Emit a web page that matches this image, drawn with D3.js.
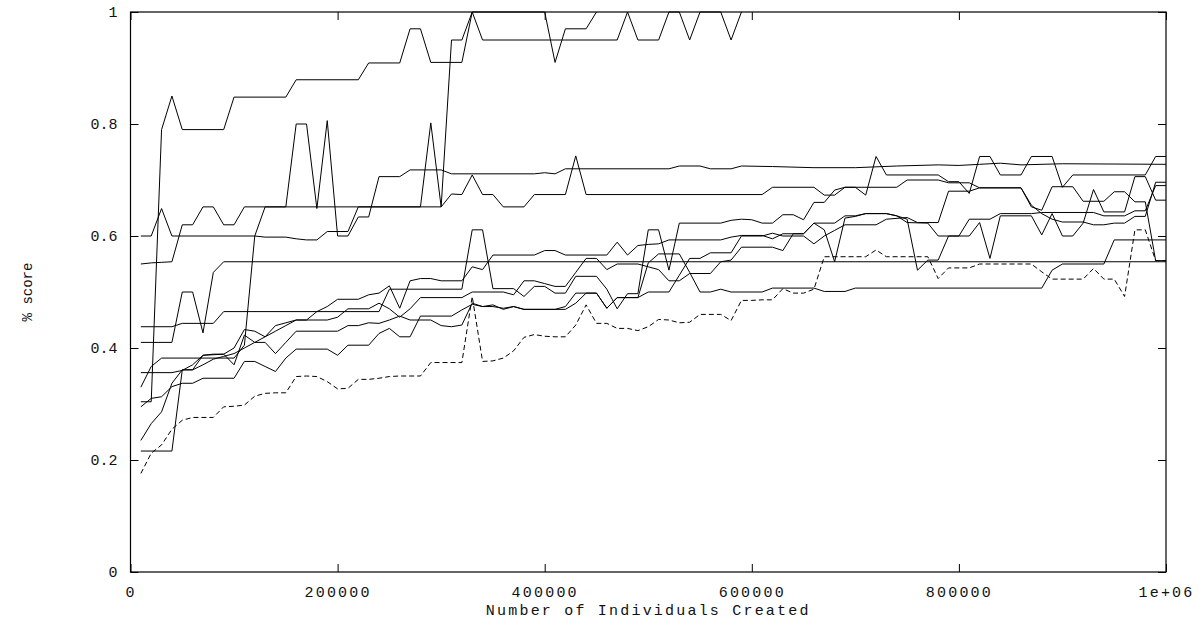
<!DOCTYPE html>
<html>
<head>
<meta charset="utf-8">
<script src="https://cdn.jsdelivr.net/npm/d3@7/dist/d3.min.js"></script>
<style>
	body { margin: 0; background: #fff; }
	svg { display: block; font-family: "Liberation Mono", "DejaVu Sans Mono", monospace; }
</style>
</head>
<body>
<div class="container"></div>
<script>
"use strict";

//each run: [checkpoint, score], one checkpoint every 10000 individuals
const run1 = [[1,.304],[2,.304],[3,.79],[4,.85],[5,.79],[9,.79],[10,.848],[15,.848],[16,.879],[22,.879],[23,.909],[26,.909],[27,.97],[28,.97],[29,.91],[32,.91],[33,1],[34,.95],[47,.95],[48,1],[49,.95],[51,.95],[52,1],[53,1],[54,.95],[55,1],[57,1],[58,.95],[59,1]]
const run2 = [[1,.55],[2,.552],[3,.553],[4,.554],[5,.62],[6,.62],[7,.652],[8,.652],[9,.62],[10,.62],[11,.652],[28,.652],[29,.802],[30,.652],[31,.95],[32,.95],[33,1],[40,1],[41,.91],[42,.97],[44,.97],[45,1]]
const run3 = [[1,.6],[2,.6],[3,.649],[4,.6],[12,.6],[13,.598],[15,.598],[16,.595],[17,.593],[18,.593],[19,.608],[21,.608],[22,.652],[30,.652],[31,.675],[32,.674],[33,.709],[34,.674],[35,.674],[36,.652],[38,.652],[39,.674],[42,.674],[43,.743],[44,.674],[61,.674],[62,.687],[66,.687],[67,.673],[68,.673],[69,.687],[70,.687],[71,.673],[72,.742],[73,.709],[78,.709],[79,.697],[80,.697],[81,.676],[82,.742],[83,.742],[84,.709],[86,.709],[87,.742],[89,.742],[90,.687],[91,.709],[98,.709],[99,.742],[100,.742]]
const run4 = [[1,.33],[2,.367],[3,.382],[10,.382],[11,.405],[12,.6],[13,.652],[15,.652],[16,.8],[17,.8],[18,.649],[19,.806],[20,.6],[21,.6],[22,.634],[23,.634],[24,.706],[26,.706],[27,.718],[30,.718],[31,.711],[39,.711],[40,.713],[41,.711],[42,.72],[52,.72],[53,.725],[55,.725],[56,.72],[58,.72],[59,.725],[62,.724],[66,.722],[70,.722],[74,.725],[78,.727],[80,.726],[82,.728],[84,.73],[86,.727],[90,.729],[100,.728]]
const run5 = [[1,.41],[4,.41],[5,.5],[6,.5],[7,.427],[8,.535],[9,.554],[100,.554]]
const run6 = [[1,.438],[4,.438],[5,.444],[8,.444],[9,.465],[24,.465],[25,.505],[32,.505],[33,.611],[34,.611],[35,.506],[37,.506],[38,.492],[39,.51],[40,.51],[41,.498],[42,.498],[43,.528],[45,.528],[46,.505],[47,.47],[48,.497],[49,.497],[50,.611],[51,.611],[52,.539],[53,.623],[57,.623],[58,.628],[59,.63],[60,.629],[61,.623],[62,.623],[63,.638],[64,.638],[65,.629],[66,.66],[67,.66],[68,.682],[69,.687],[74,.687],[75,.7],[78,.7],[79,.695],[81,.695],[82,.686],[86,.686],[87,.652],[88,.646],[89,.688],[91,.688],[92,.662],[94,.662],[95,.679],[96,.679],[97,.661],[98,.661],[99,.556],[100,.556]]
const run7 = [[1,.356],[4,.356],[5,.36],[6,.37],[7,.387],[9,.389],[10,.4],[11,.433],[12,.43],[13,.42],[14,.44],[15,.445],[16,.45],[17,.45],[18,.465],[19,.474],[20,.487],[22,.487],[23,.495],[24,.498],[25,.511],[26,.471],[27,.52],[28,.524],[29,.524],[30,.52],[32,.52],[33,.545],[34,.54],[35,.566],[39,.566],[40,.574],[41,.574],[42,.566],[46,.566],[47,.589],[48,.566],[49,.583],[50,.585],[51,.586],[52,.593],[57,.593],[58,.598],[59,.601],[61,.601],[62,.595],[63,.604],[65,.604],[66,.623],[68,.623],[69,.636],[70,.636],[71,.64],[73,.64],[74,.636],[75,.624],[77,.623],[78,.6],[80,.6],[81,.63],[83,.63],[84,.64],[87,.64],[88,.642],[93,.642],[94,.636],[96,.636],[97,.645],[98,.645],[99,.69],[100,.69]]
const run8 = [[1,.295],[2,.31],[3,.313],[4,.331],[5,.337],[6,.337],[7,.346],[10,.346],[11,.376],[12,.376],[13,.367],[14,.358],[15,.382],[16,.398],[19,.398],[20,.387],[21,.405],[23,.405],[24,.426],[25,.435],[26,.42],[27,.42],[28,.457],[31,.457],[32,.468],[33,.478],[34,.474],[35,.474],[36,.471],[37,.474],[38,.469],[42,.469],[43,.48],[44,.498],[45,.498],[46,.471],[47,.49],[49,.49],[50,.5],[52,.5],[53,.53],[54,.56],[55,.56],[56,.57],[58,.57],[59,.6],[61,.6],[62,.605],[63,.6],[65,.6],[66,.586],[67,.6],[68,.61],[69,.62],[72,.62],[73,.63],[75,.633],[76,.624],[78,.624],[79,.68],[81,.68],[82,.686],[86,.686],[87,.655],[88,.64],[89,.63],[90,.625],[92,.625],[93,.62],[94,.62],[95,.623],[96,.623],[97,.635],[98,.635],[99,.696],[100,.696]]
const run9 = [[1,.216],[4,.216],[5,.361],[6,.361],[7,.387],[8,.389],[9,.389],[10,.37],[11,.423],[12,.41],[13,.41],[14,.39],[15,.41],[16,.43],[20,.43],[21,.44],[22,.44],[23,.445],[24,.444],[25,.45],[26,.457],[27,.45],[29,.45],[30,.44],[31,.438],[32,.441],[33,.48],[34,.474],[35,.477],[36,.469],[37,.474],[38,.469],[41,.469],[42,.474],[43,.498],[45,.498],[46,.471],[47,.49],[49,.49],[50,.552],[51,.568],[53,.568],[54,.535],[55,.5],[56,.5],[57,.505],[58,.5],[61,.5],[62,.507],[66,.507],[67,.501],[69,.501],[70,.507],[88,.507],[89,.539],[90,.55],[94,.55],[95,.593],[100,.593]]
const run10 = [[1,.235],[2,.265],[3,.286],[4,.337],[5,.361],[6,.361],[7,.37],[8,.38],[9,.385],[10,.39],[11,.4],[12,.41],[13,.42],[14,.43],[15,.44],[16,.45],[19,.45],[20,.455],[21,.47],[23,.47],[24,.48],[25,.47],[26,.455],[27,.47],[28,.49],[32,.49],[33,.5],[36,.5],[37,.495],[38,.52],[39,.52],[40,.515],[41,.51],[42,.51],[43,.535],[44,.56],[45,.56],[46,.54],[47,.55],[49,.55],[50,.545],[51,.54],[52,.52],[53,.52],[54,.533],[56,.533],[57,.554],[58,.557],[59,.58],[62,.58],[63,.574],[64,.604],[65,.604],[66,.623],[67,.611],[68,.554],[69,.632],[70,.635],[71,.64],[73,.64],[74,.636],[75,.63],[76,.539],[77,.557],[78,.557],[79,.6],[81,.6],[82,.624],[83,.56],[84,.636],[87,.636],[88,.602],[89,.64],[90,.6],[91,.6],[92,.623],[93,.683],[94,.643],[96,.643],[97,.706],[98,.706],[99,.664],[100,.664]]
//dashed run
const meanRun = [[1,.176],[2,.212],[3,.227],[4,.255],[5,.271],[6,.276],[8,.276],[9,.295],[10,.296],[11,.298],[12,.314],[13,.319],[14,.32],[15,.32],[16,.349],[17,.35],[18,.349],[19,.34],[20,.327],[21,.328],[22,.344],[23,.344],[24,.346],[25,.349],[26,.35],[28,.35],[29,.374],[32,.374],[33,.492],[34,.376],[35,.377],[36,.382],[37,.395],[38,.419],[39,.424],[40,.421],[41,.42],[42,.42],[43,.441],[44,.477],[45,.444],[46,.444],[47,.435],[48,.435],[49,.431],[50,.438],[51,.451],[52,.45],[53,.445],[54,.446],[55,.46],[57,.46],[58,.449],[59,.485],[60,.485],[61,.486],[62,.486],[63,.506],[64,.498],[65,.498],[66,.505],[67,.563],[71,.563],[72,.575],[73,.563],[77,.563],[78,.524],[79,.543],[81,.543],[82,.55],[87,.55],[88,.536],[89,.523],[92,.523],[93,.542],[94,.523],[95,.523],[96,.492],[97,.611],[98,.611],[99,.556],[100,.556]]

const runs = [run1, run2, run3, run4, run5, run6, run7, run8, run9, run10]
const step = 10000 //individuals between two checkpoints

const xTicks = [0, 200000, 400000, 600000, 800000, 1000000]
const xTickLabels = ['0', '200000', '400000', '600000', '800000', '1e+06']
const yTicks = [0, 0.2, 0.4, 0.6, 0.8, 1]
const yTickLabels = ['0', '0.2', '0.4', '0.6', '0.8', '1']

//the p(properties) of the svg
const p = {
	svgWidth: 1203,
	svgHeight: 625,
	left: 130.5,
	right: 1166,
	top: 12,
	bottom: 572,
	tick: 8,
	fontSize: 15,
	spacing: '2.2px'
}

const svg = d3.select('.container')
	.append('svg')
	.attr('width', p.svgWidth)
	.attr('height', p.svgHeight)

const x = d3.scaleLinear().domain([0, 1000000]).range([p.left, p.right])
const y = d3.scaleLinear().domain([0, 1]).range([p.bottom, p.top])

const line = d3.line()
	.x(d => x(d[0] * step))
	.y(d => y(d[1]))

//ticks on all four sides, pointing inwards
function drawAxis(axis, transform, spacing) {
	const g = svg.append('g')
		.attr('transform', transform)
		.call(axis)
	g.select('.domain').remove()
	g.selectAll('.tick line').attr('stroke', '#000')
	g.selectAll('.tick text')
		.attr('fill', '#111')
		.style('font-size', p.fontSize + 'px')
		.style('letter-spacing', spacing)
		.style('font-family', '"Liberation Mono", monospace')
	return g
}

drawAxis(d3.axisBottom(x).tickValues(xTicks).tickSize(-p.tick).tickPadding(14)
	.tickFormat((d, i) => xTickLabels[i]), `translate(0,${p.bottom})`, p.spacing)
drawAxis(d3.axisTop(x).tickValues(xTicks).tickSize(-p.tick).tickFormat(''), `translate(0,${p.top})`, '0')
drawAxis(d3.axisLeft(y).tickValues(yTicks).tickSize(-p.tick).tickPadding(13)
	.tickFormat((d, i) => yTickLabels[i]), `translate(${p.left},0)`, '0')
drawAxis(d3.axisRight(y).tickValues(yTicks).tickSize(-p.tick).tickFormat(''), `translate(${p.right},0)`, '0')

//frame
svg.append('rect')
	.attr('x', p.left)
	.attr('y', p.top)
	.attr('width', p.right - p.left)
	.attr('height', p.bottom - p.top)
	.attr('fill', 'none')
	.attr('stroke', '#000')
	.attr('stroke-width', 1.2)

//runs
svg.append('g')
	.selectAll('path')
	.data(runs)
	.join('path')
	.attr('d', line)
	.attr('fill', 'none')
	.attr('stroke', '#000')
	.attr('stroke-width', 1)

svg.append('path')
	.datum(meanRun)
	.attr('d', line)
	.attr('fill', 'none')
	.attr('stroke', '#000')
	.attr('stroke-width', 1)
	.attr('stroke-dasharray', '5,3')

//axis titles
svg.append('text')
	.attr('x', (p.left + p.right) / 2)
	.attr('y', 615)
	.attr('text-anchor', 'middle')
	.attr('fill', '#111')
	.style('font-size', p.fontSize + 'px')
	.style('letter-spacing', p.spacing)
	.text('Number of Individuals Created')

svg.append('text')
	.attr('transform', 'translate(32,292) rotate(-90)')
	.attr('text-anchor', 'middle')
	.attr('fill', '#111')
	.style('font-size', '14px')
	.text('% score')
</script>
</body>
</html>
